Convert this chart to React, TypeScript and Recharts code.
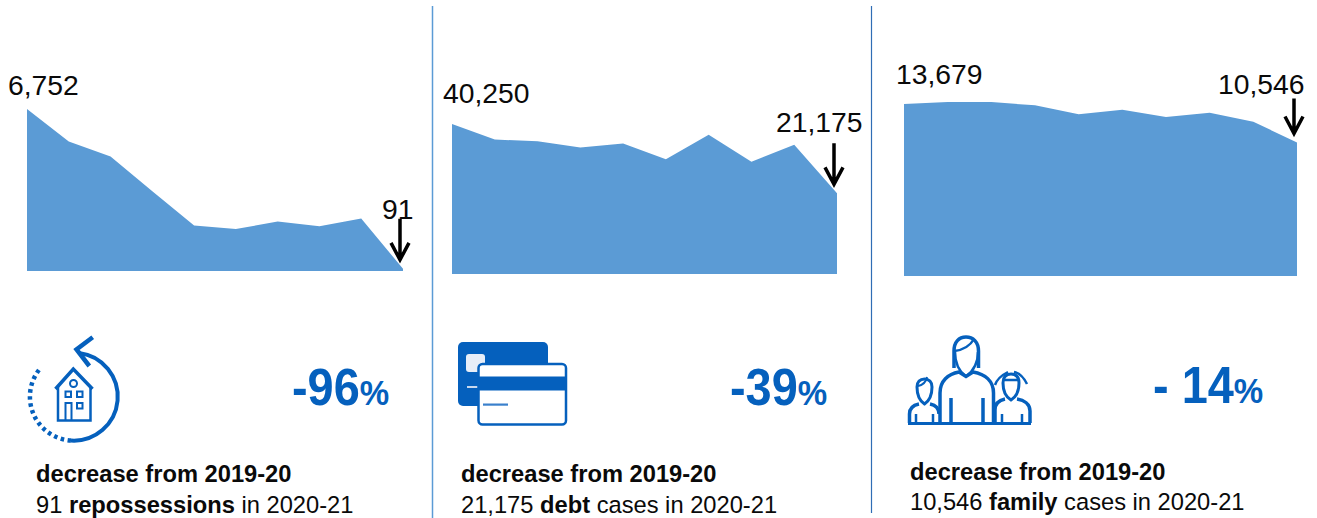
import { Area, AreaChart, XAxis, YAxis } from "recharts";

const years = ["2011-12", "2012-13", "2013-14", "2014-15", "2015-16", "2016-17", "2017-18", "2018-19", "2019-20", "2020-21"];
const repossessions = [6752, 5401, 4775, 3327, 1893, 1754, 2060, 1865, 2186, 91];
const debtCases = [40250, 35956, 35508, 33810, 34883, 30590, 37299, 29875, 34526, 21175];
const familyCases = [13679, 13842, 13842, 13570, 12836, 13217, 12618, 12972, 12237, 10546];

const AREA_BLUE = "#5b9bd5";
const ICON_BLUE = "#0560bd";
const FONT = '"Liberation Sans", Arial, sans-serif';

const HEIGHT = 300;

// first/last label offsets are relative to the data point they belong to
const panels = [
  {
    values: repossessions, left: 0, width: 432, plotLeft: 27, plotRight: 403, plotTop: 109, plotBottom: 271,
    domain: [0, 6752], first: [-19, -14], last: [-21, -50], arrowLength: 43,
  },
  {
    values: debtCases, left: 433, width: 438, plotLeft: 452, plotRight: 837, plotTop: 124, plotBottom: 274,
    domain: [-1000, 40250], first: [-9, -21], last: [-61, -61], arrowLength: 43,
  },
  {
    values: familyCases, left: 872, width: 445, plotLeft: 904, plotRight: 1297, plotTop: 102, plotBottom: 276,
    domain: [-331, 13842], first: [-8, -20], last: [-79, -48], arrowLength: 37,
  },
];

function Panel({ panel }: { panel: (typeof panels)[number] }) {
  const data = years.map((year, i) => ({ year, value: panel.values[i] }));
  const lastIndex = data.length - 1;

  const renderMark = (props: any) => {
    const { cx, cy, index } = props;
    if (index !== 0 && index !== lastIndex) return <g key={index} />;
    const offset = index === 0 ? panel.first : panel.last;
    const text = (
      <text x={cx + offset[0]} y={cy + offset[1]} fontFamily={FONT} fontSize={28.3} fill="#0a0a0a">
        {data[index].value.toLocaleString("en-GB")}
      </text>
    );
    if (index === 0) return <g key={index}>{text}</g>;
    const tipX = cx - 3;
    const tipY = cy - 7;
    return (
      <g key={index}>
        {text}
        <path
          d={`M${tipX} ${tipY - panel.arrowLength}V${tipY - 2}M${tipX - 9} ${tipY - 19}L${tipX} ${tipY - 2}L${tipX + 9} ${tipY - 19}`}
          fill="none"
          stroke="#000"
          strokeWidth={3.5}
        />
      </g>
    );
  };

  return (
    <div style={{ position: "absolute", left: panel.left, top: 0 }}>
      <AreaChart
        width={panel.width}
        height={HEIGHT}
        data={data}
        margin={{
          left: panel.plotLeft - panel.left,
          right: panel.left + panel.width - panel.plotRight,
          top: panel.plotTop,
          bottom: HEIGHT - panel.plotBottom,
        }}
      >
        <XAxis dataKey="year" hide />
        <YAxis hide domain={panel.domain} />
        <Area
          type="linear"
          dataKey="value"
          stroke="none"
          fill={AREA_BLUE}
          fillOpacity={1}
          baseValue={panel.domain[0]}
          dot={renderMark}
          activeDot={false}
          isAnimationActive={false}
        />
      </AreaChart>
    </div>
  );
}

function Caption({ x, y1, y2, value, word, rest }: { x: number; y1: number; y2: number; value: string; word: string; rest: string }) {
  return (
    <g fontFamily={FONT} fontSize={23.7} fill="#0a0a0a">
      <text x={x} y={y1} fontWeight="bold">decrease from 2019-20</text>
      <text x={x} y={y2}>
        {value} <tspan fontWeight="bold">{word}</tspan> {rest}
      </text>
    </g>
  );
}

// the original figures are slightly condensed, hence the x scale
function Change({ x, y, value }: { x: number; y: number; value: string }) {
  return (
    <text transform={`translate(${x} ${y}) scale(0.92 1)`} fontFamily={FONT} fontWeight="bold" fill={ICON_BLUE} fontSize={51}>
      {value}
      <tspan fontSize={36}>%</tspan>
    </text>
  );
}

function HouseIcon() {
  return (
    <g fill="none" stroke={ICON_BLUE}>
      <path d="M79 353A44 44 0 0 1 71 440.600" strokeWidth={4} />
      <path d="M71 440.600A44 44 0 0 1 41 367.500" strokeWidth={4.5} strokeDasharray="3.500 3.500" />
      <path d="M92.700 337.300L76.500 349.500L89.300 366" strokeWidth={4.5} />
      <path d="M55.500 389L73.300 369L92.500 389" strokeWidth={3.5} />
      <path d="M58 386V420.500H90.500V386" strokeWidth={2.500} />
      <circle cx={73.500} cy={383.500} r={3.500} strokeWidth={2} />
      <rect x={65.500} y={391.500} width={5.500} height={5.500} strokeWidth={2} />
      <rect x={77} y={391.500} width={5.500} height={5.500} strokeWidth={2} />
      <rect x={77} y={403} width={5.500} height={5.500} strokeWidth={2} />
      <path d="M65.500 420V403H71.500V420" strokeWidth={2} />
    </g>
  );
}

function CardsIcon() {
  return (
    <g>
      <rect x={458} y={342} width={90} height={64} rx={5} fill={ICON_BLUE} />
      <rect x={466} y={354} width={19} height={18} rx={3} fill="#e8eef8" />
      <rect x={467} y={386} width={11} height={2} fill="#c8d8ee" />
      <rect x={478.500} y={364} width={87.500} height={60.500} rx={4} fill="#fff" stroke={ICON_BLUE} strokeWidth={2.500} />
      <rect x={478} y={376.500} width={88} height={14} fill={ICON_BLUE} />
      <rect x={483} y={403.500} width={25} height={2.200} fill="#3a80cc" />
    </g>
  );
}

function FamilyIcon() {
  return (
    <g fill="none" stroke={ICON_BLUE} strokeWidth={3.5}>
      {/* mother */}
      <path d="M954 368V351C954 342 959 337 966 337C973 337 978.500 342 978.500 351V368" />
      <path d="M954.500 351C962 350 970 346 974 339" strokeWidth={2.500} />
      <path d="M955 352C955 364 960 372 966 376.500C972 372 978 364 978 352" strokeWidth={2.500} />
      <path d="M940 423V393C940 381 948 374 959 372L966 376.500L973 372C985 374 993.500 381 993.500 393V423" />
      <path d="M951 398V423M983 398V423" />
      {/* left child */}
      <path d="M917 387C917 395 920 401 924.500 404C929 401 932 395 932 387C932 382 929 379 924.500 379C920 379 917 382 917 387Z" strokeWidth={3} />
      <path d="M918 386C923 385 926 382 927 377" strokeWidth={2} />
      <path d="M909.500 423V414C909.500 408 914 405 919 404M930 404C935 405 939 408 939 414" />
      <path d="M916 414V423M933 414V423" strokeWidth={2.500} />
      {/* right child */}
      <path d="M1003 383C1003 391 1006 397 1011 400C1016 397 1019 391 1019 383C1019 377 1016 374 1011 374C1006 374 1003 377 1003 383Z" strokeWidth={3} />
      <path d="M995 385C997 379 1002 375 1008 372M1014 372C1020 373 1024 378 1027 384M1003 380H1019" strokeWidth={2.500} />
      <path d="M995 423V410C995 403 1000 400 1005 399M1017 399C1024 400 1030 404 1030 411V423" />
      <path d="M1002 414V423M1022 414V423" strokeWidth={2.500} />
      <path d="M908 423.500H1031" strokeWidth={3} />
    </g>
  );
}

export default function App() {
  return (
    <div style={{ position: "absolute", left: 0, top: 0, width: 1317, height: 518, background: "#fff", overflow: "hidden" }}>
      {panels.map((panel) => (
        <Panel key={panel.plotLeft} panel={panel} />
      ))}
      <svg width={1317} height={518} style={{ position: "absolute", left: 0, top: 0, pointerEvents: "none" }}>
        <line x1={432.500} y1={6} x2={432.500} y2={518} stroke="#5b9bd5" strokeWidth={1.500} />
        <line x1={871.500} y1={6} x2={871.500} y2={513} stroke="#2f6db5" strokeWidth={1.200} />
        <HouseIcon />
        <CardsIcon />
        <FamilyIcon />
        <Change x={292} y={405} value="-96" />
        <Change x={730} y={405} value="-39" />
        <Change x={1153} y={403} value="- 14" />
        <Caption x={36} y1={482} y2={513} value="91" word="repossessions" rest="in 2020-21" />
        <Caption x={461} y1={482} y2={513} value="21,175" word="debt" rest="cases in 2020-21" />
        <Caption x={910} y1={480} y2={510} value="10,546" word="family" rest="cases in 2020-21" />
      </svg>
    </div>
  );
}
